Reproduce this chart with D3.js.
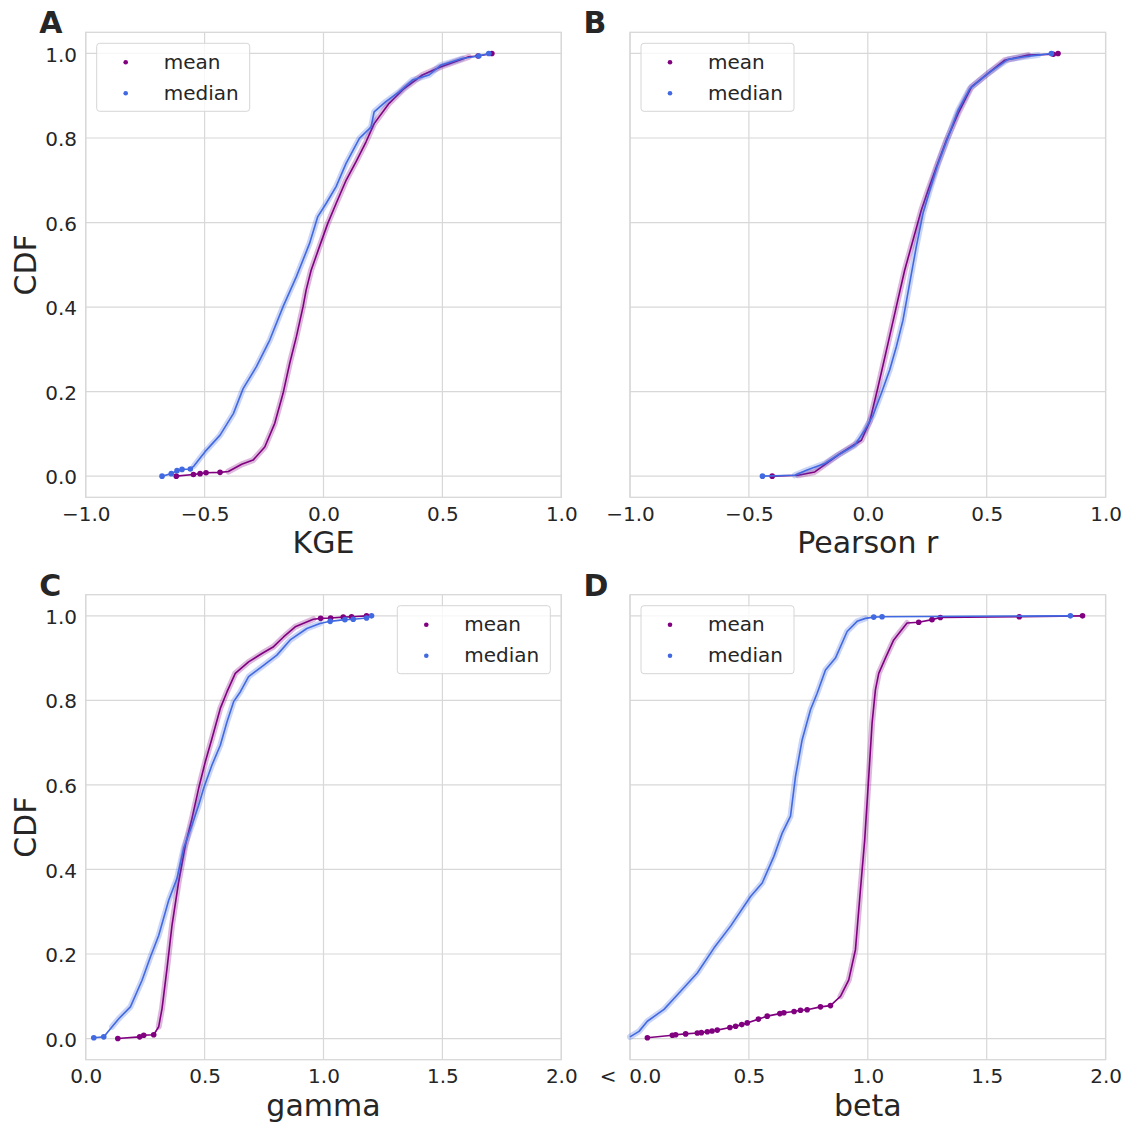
<!DOCTYPE html>
<html>
<head>
<meta charset="utf-8">
<script src="https://cdn.jsdelivr.net/npm/d3@7"></script>
<style>
  body { margin: 0; background: #fff; }
  text { font-family: "DejaVu Sans", sans-serif; fill: #262626; }
</style>
</head>
<body>
<div id="chart"></div>
<script>
// Data: [value, CDF]
// "low"/"high" are the sparse tail samples (drawn as dots), "body" the dense part
var kgeMeanLow = [[-0.619, 0], [-0.547, 0.004], [-0.519, 0.006], [-0.494, 0.008], [-0.435, 0.009]];
var kgeMeanBody = [[-0.40, 0.011], [-0.344, 0.028], [-0.296, 0.038], [-0.247, 0.069], [-0.205, 0.125],
  [-0.170, 0.196], [-0.142, 0.267], [-0.114, 0.330], [-0.086, 0.401], [-0.073, 0.440], [-0.052, 0.487],
  [-0.017, 0.543], [0.018, 0.598], [0.053, 0.645], [0.095, 0.700], [0.137, 0.744], [0.179, 0.791],
  [0.213, 0.834], [0.276, 0.882], [0.339, 0.917], [0.416, 0.949], [0.492, 0.968], [0.611, 0.992]];
var kgeMeanHigh = [[0.65, 0.994], [0.708, 1.0]];

var kgeMedianLow = [[-0.679, 0], [-0.64, 0.006], [-0.616, 0.013], [-0.595, 0.016], [-0.56, 0.017]];
var kgeMedianBody = [[-0.545, 0.024], [-0.498, 0.058], [-0.435, 0.097], [-0.379, 0.148], [-0.338, 0.207],
  [-0.282, 0.259], [-0.226, 0.322], [-0.170, 0.401], [-0.114, 0.472], [-0.059, 0.550], [-0.024, 0.614],
  [0.011, 0.645], [0.053, 0.685], [0.095, 0.740], [0.151, 0.799], [0.200, 0.826], [0.213, 0.862],
  [0.262, 0.886], [0.318, 0.909], [0.374, 0.937], [0.444, 0.949], [0.492, 0.972], [0.583, 0.988]];
var kgeMedianHigh = [[0.653, 0.994], [0.695, 1.0]];

var pearsonMeanLow = [[-0.402, 0]];
var pearsonMeanBody = [[-0.293, 0.002], [-0.223, 0.010], [-0.125, 0.050], [-0.027, 0.085], [0.008, 0.129],
  [0.043, 0.211], [0.085, 0.314], [0.120, 0.401], [0.155, 0.487], [0.190, 0.558], [0.225, 0.629],
  [0.254, 0.677], [0.289, 0.732], [0.331, 0.795], [0.380, 0.858], [0.436, 0.921], [0.506, 0.953],
  [0.576, 0.984], [0.674, 0.996]];
var pearsonMeanHigh = [[0.78, 0.998], [0.80, 1.0]];

var pearsonMedianLow = [[-0.443, 0]];
var pearsonMedianBody = [[-0.307, 0.002], [-0.258, 0.014], [-0.181, 0.030], [-0.125, 0.050], [-0.055, 0.073],
  [-0.013, 0.109], [0.022, 0.144], [0.057, 0.196], [0.092, 0.251], [0.120, 0.306], [0.148, 0.369],
  [0.176, 0.456], [0.204, 0.543], [0.232, 0.621], [0.261, 0.677], [0.296, 0.740], [0.338, 0.803],
  [0.380, 0.866], [0.429, 0.917], [0.506, 0.953], [0.590, 0.986], [0.660, 0.992], [0.716, 0.996]];
var pearsonMedianHigh = [[0.772, 1.0]];

var gammaMeanLow = [[0.135, 0], [0.227, 0.004], [0.244, 0.008], [0.286, 0.009]];
var gammaMeanBody = [[0.307, 0.028], [0.321, 0.071], [0.342, 0.166], [0.363, 0.268], [0.391, 0.371],
  [0.419, 0.457], [0.447, 0.521], [0.475, 0.592], [0.503, 0.655], [0.531, 0.710], [0.566, 0.781],
  [0.594, 0.820], [0.629, 0.864], [0.685, 0.891], [0.741, 0.911], [0.790, 0.927], [0.832, 0.950],
  [0.881, 0.974], [0.957, 0.992]];
var gammaMeanHigh = [[0.988, 0.994], [1.030, 0.995], [1.083, 0.997], [1.118, 0.998], [1.181, 1.0]];

var gammaMedianLow = [[0.034, 0.002], [0.076, 0.004]];
var gammaMedianBody = [[0.111, 0.028], [0.139, 0.047], [0.188, 0.075], [0.237, 0.138], [0.272, 0.193],
  [0.307, 0.244], [0.349, 0.327], [0.384, 0.379], [0.412, 0.450], [0.447, 0.505], [0.475, 0.552],
  [0.496, 0.592], [0.531, 0.647], [0.566, 0.694], [0.594, 0.749], [0.622, 0.797], [0.650, 0.820],
  [0.685, 0.856], [0.748, 0.883], [0.804, 0.907], [0.860, 0.943], [0.930, 0.970], [0.985, 0.982]];
var gammaMedianHigh = [[1.028, 0.987], [1.090, 0.991], [1.125, 0.992], [1.181, 0.995], [1.202, 1.0]];

var betaMeanLow = [[0.073, 0.002], [0.178, 0.008], [0.192, 0.009], [0.234, 0.011], [0.283, 0.013],
  [0.300, 0.014], [0.325, 0.016], [0.345, 0.018], [0.367, 0.020], [0.420, 0.026], [0.444, 0.029],
  [0.470, 0.033], [0.493, 0.037], [0.540, 0.046], [0.577, 0.053], [0.630, 0.059], [0.647, 0.061],
  [0.690, 0.064], [0.717, 0.067], [0.745, 0.068], [0.801, 0.075], [0.843, 0.078]];
var betaMeanBody = [[0.885, 0.100], [0.920, 0.139], [0.948, 0.210], [0.969, 0.352], [0.987, 0.470],
  [1.004, 0.620], [1.018, 0.746], [1.032, 0.825], [1.046, 0.864], [1.074, 0.900], [1.109, 0.943],
  [1.165, 0.983]];
var betaMeanHigh = [[1.214, 0.985], [1.270, 0.991], [1.305, 0.996], [1.637, 0.998], [1.903, 1.0]];

var betaMedianLow = [];
var betaMedianBody = [[0.0, 0.004], [0.038, 0.017], [0.073, 0.041], [0.143, 0.069], [0.213, 0.112],
  [0.283, 0.155], [0.353, 0.214], [0.423, 0.266], [0.507, 0.336], [0.556, 0.368], [0.605, 0.431],
  [0.640, 0.486], [0.675, 0.526], [0.696, 0.620], [0.724, 0.707], [0.759, 0.778], [0.787, 0.817],
  [0.822, 0.872], [0.864, 0.900], [0.913, 0.963], [0.955, 0.987], [0.990, 0.994]];
var betaMedianHigh = [[1.025, 0.997], [1.060, 0.998], [1.852, 1.0]];

var seriesNames = ["mean", "median"];
var seriesColors = { mean: "#800080", median: "#4169e1" };
var yTicks = [0, 0.2, 0.4, 0.6, 0.8, 1.0];
var corrTicks = [-1, -0.5, 0, 0.5, 1];
var ratioTicks = [0, 0.5, 1, 1.5, 2];

// Figure and panel layout
var svgWidth = 1128;
var svgHeight = 1125;
var width = 475.6;
var height = 465;

var panels = [
  { letter: "A", xLabel: "KGE", domain: [-1, 1], ticks: corrTicks, left: 85.7, top: 32.3, yLabels: true, legend: "left",
    mean: [kgeMeanLow, kgeMeanBody, kgeMeanHigh], median: [kgeMedianLow, kgeMedianBody, kgeMedianHigh] },
  { letter: "B", xLabel: "Pearson r", domain: [-1, 1], ticks: corrTicks, left: 630, top: 32.3, yLabels: false, legend: "left",
    mean: [pearsonMeanLow, pearsonMeanBody, pearsonMeanHigh], median: [pearsonMedianLow, pearsonMedianBody, pearsonMedianHigh] },
  { letter: "C", xLabel: "gamma", domain: [0, 2], ticks: ratioTicks, left: 85.7, top: 594.7, yLabels: true, legend: "right",
    mean: [gammaMeanLow, gammaMeanBody, gammaMeanHigh], median: [gammaMedianLow, gammaMedianBody, gammaMedianHigh] },
  { letter: "D", xLabel: "beta", domain: [0, 2], ticks: ratioTicks, left: 630, top: 594.7, yLabels: false, legend: "left", lessThan: true,
    mean: [betaMeanLow, betaMeanBody, betaMeanHigh], median: [betaMedianLow, betaMedianBody, betaMedianHigh] }
];

var svg = d3.select("#chart")
  .append("svg")
  .attr("width", svgWidth)
  .attr("height", svgHeight);

var yScale = d3.scaleLinear().domain([-0.05, 1.05]).range([height, 0]);
var gridColor = "#d8d8d8";

panels.forEach(function(p) {
  var g = svg.append("g").attr("transform", `translate(${p.left}, ${p.top})`);
  var xScale = d3.scaleLinear().domain(p.domain).range([0, width]);

  // grid
  g.selectAll(".vgrid").data(p.ticks).enter().append("line")
    .attr("x1", d => xScale(d)).attr("x2", d => xScale(d))
    .attr("y1", 0).attr("y2", height)
    .attr("stroke", gridColor).attr("stroke-width", 1.2);
  g.selectAll(".hgrid").data(yTicks).enter().append("line")
    .attr("x1", 0).attr("x2", width)
    .attr("y1", d => yScale(d)).attr("y2", d => yScale(d))
    .attr("stroke", gridColor).attr("stroke-width", 1.2);

  // frame
  g.append("rect")
    .attr("width", width).attr("height", height)
    .attr("fill", "none").attr("stroke", gridColor).attr("stroke-width", 1.3);

  // axes
  var xAxis = d3.axisBottom(xScale).tickValues(p.ticks).tickSize(0).tickPadding(9.5)
    .tickFormat(function(d) {
      var s = d3.format(".1f")(d).replace("-", "\u2212");
      return (p.lessThan && d === 0) ? "<\u00a0\u00a0" + s : s;
    });
  var xg = g.append("g").attr("transform", `translate(0, ${height})`).call(xAxis);
  xg.select(".domain").remove();
  xg.selectAll("text").style("font-size", "20px").attr("fill", "#262626")
    .style("font-family", "'DejaVu Sans', sans-serif");

  if (p.yLabels) {
    var yAxis = d3.axisLeft(yScale).tickValues(yTicks).tickSize(0).tickPadding(8.7).tickFormat(d3.format(".1f"));
    var yg = g.append("g").call(yAxis);
    yg.select(".domain").remove();
    yg.selectAll("text").style("font-size", "20px").attr("fill", "#262626").attr("dy", "0.38em")
      .style("font-family", "'DejaVu Sans', sans-serif");

    g.append("text")
      .attr("transform", `translate(${-50}, ${height / 2}) rotate(-90)`)
      .attr("text-anchor", "middle")
      .style("font-size", "30px")
      .text("CDF");
  }

  g.append("text")
    .attr("x", width / 2).attr("y", height + 56)
    .attr("text-anchor", "middle")
    .style("font-size", "30px")
    .text(p.xLabel);

  g.append("text")
    .attr("x", -46.5).attr("y", 0.8)
    .style("font-size", "30px").style("font-weight", "bold")
    .text(p.letter);

  // curves
  var line = d3.line().x(d => xScale(d[0])).y(d => yScale(d[1]));
  seriesNames.forEach(function(name) {
    var parts = p[name];
    var color = seriesColors[name];
    var all = parts[0].concat(parts[1], parts[2]);
    g.append("path").datum(parts[1])
      .attr("d", line).attr("fill", "none")
      .attr("stroke", color).attr("stroke-opacity", 0.28)
      .attr("stroke-width", 6).attr("stroke-linejoin", "round").attr("stroke-linecap", "round");
    g.append("path").datum(all)
      .attr("d", line).attr("fill", "none")
      .attr("stroke", color).attr("stroke-width", 1.6).attr("stroke-linejoin", "round");
    g.selectAll(".dot-" + name).data(parts[0].concat(parts[2])).enter().append("circle")
      .attr("cx", d => xScale(d[0])).attr("cy", d => yScale(d[1]))
      .attr("r", 2.8).attr("fill", color);
  });

  // legend
  var lx = p.legend === "left" ? 11 : width - 11 - 153;
  var lg = g.append("g").attr("transform", `translate(${lx}, 11)`);
  lg.append("rect")
    .attr("width", 153).attr("height", 68).attr("rx", 3)
    .attr("fill", "#fff").attr("fill-opacity", 0.8)
    .attr("stroke", "#d6d6d6").attr("stroke-width", 1);
  seriesNames.forEach(function(name, i) {
    lg.append("circle").attr("cx", 29).attr("cy", 19 + i * 31).attr("r", 2.3).attr("fill", seriesColors[name]);
    lg.append("text").attr("x", 67).attr("y", 25.5 + i * 31).style("font-size", "20px").text(name);
  });
});
</script>
</body>
</html>
